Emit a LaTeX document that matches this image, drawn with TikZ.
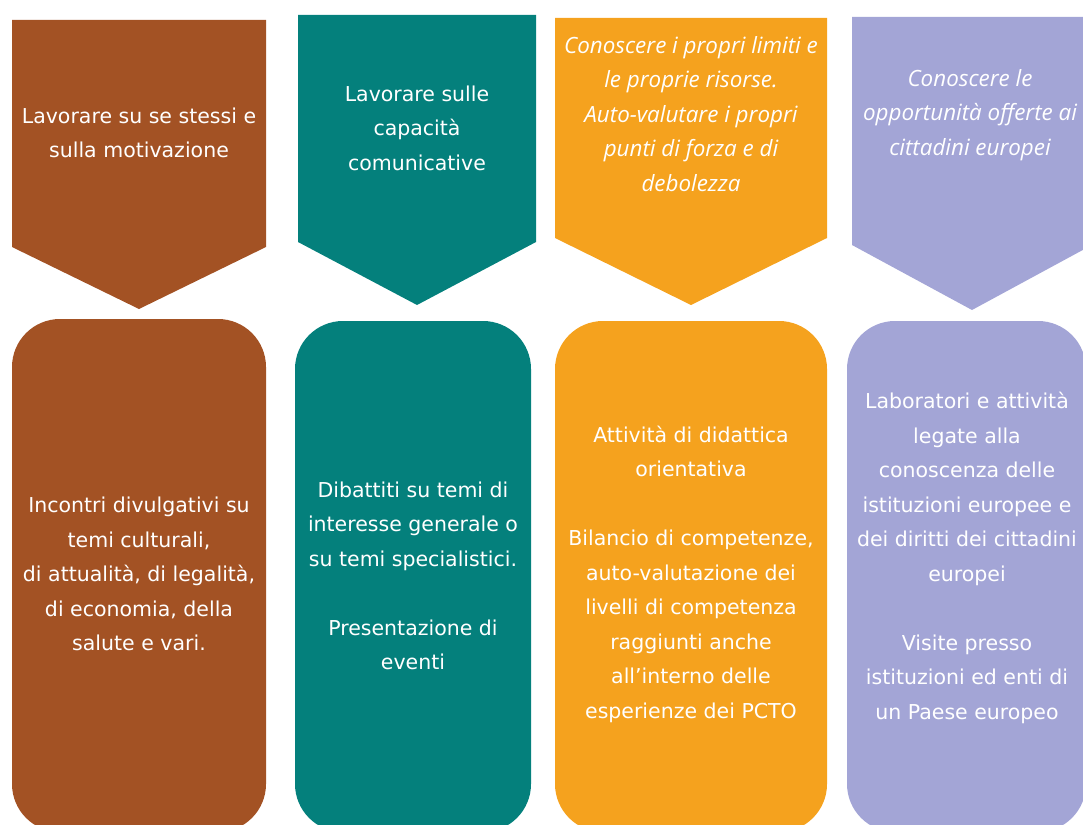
\documentclass[tikz,border=0pt]{standalone}
\usepackage{fontspec}
\setmainfont{DejaVu Sans}
\newfontfamily\itfont{Open Sans}
\definecolor{cbrown}{HTML}{A35224}
\definecolor{cteal}{HTML}{04807C}
\definecolor{corange}{HTML}{F5A21E}
\definecolor{clav}{HTML}{A3A5D6}
\tikzset{
  boxtxt/.style={text=white, align=center, inner sep=0pt, font=\fontsize{20.5}{34.5}\selectfont},
  ittxt/.style={text=white, align=center, inner sep=0pt, font=\itfont\itshape\fontsize{22.4}{34.5}\selectfont},
  pill/.style={fill=#1, draw=none, rounded corners=48pt},
  chev/.style={fill=#1, draw=none}
}
\begin{document}
\begin{tikzpicture}[x=1pt,y=-1pt]
\useasboundingbox (0,0) rectangle (1083,824);
\clip (0,0) rectangle (1083,824);
% chevrons
\fill[chev=cbrown] (12,20) -- (266,20) -- (266,247) -- (139,309) -- (12,247) -- cycle;
\fill[chev=cteal] (298,15) -- (536,15) -- (536,242) -- (417,305) -- (298,242) -- cycle;
\fill[chev=corange] (555,18) -- (827,18) -- (827,238) -- (691,305) -- (555,238) -- cycle;
\fill[chev=clav] (852,17) -- (1092,17) -- (1092,245) -- (972,310) -- (852,245) -- cycle;
% boxes
\fill[pill=cbrown] (12,319) rectangle (266,832);
\fill[pill=cteal] (295,321) rectangle (531,832);
\fill[pill=corange] (555,321) rectangle (827,832);
\fill[pill=clav] (847,321) rectangle (1086,832);
% chevron texts
\node[boxtxt] (t1) at (139,133) {Lavorare su se stessi e\\sulla motivazione};
\node[boxtxt] (t2) at (417,128) {Lavorare sulle\\capacità\\comunicative};
\node[ittxt] (t3) at (691,114) {Conoscere i propri limiti e\\le proprie risorse.\\Auto-valutare i propri\\punti di forza e di\\debolezza};
\node[ittxt] (t4) at (970,115) {Conoscere le\\opportunità offerte ai\\cittadini europei};
% box texts
\node[boxtxt] (b1) at (139,574) {Incontri divulgativi su\\temi culturali,\\di attualità, di legalità,\\di economia, della\\salute e vari.};
\node[boxtxt] (b2) at (413,576) {Dibattiti su temi di\\interesse generale o\\su temi specialistici.\\[34.5pt]Presentazione di\\eventi};
\node[boxtxt] (b3) at (691,574) {Attività di didattica\\orientativa\\[34.5pt]Bilancio di competenze,\\auto-valutazione dei\\livelli di competenza\\raggiunti anche\\all’interno delle\\esperienze dei PCTO};
\node[boxtxt] (b4) at (967,558) {Laboratori e attività\\legate alla\\conoscenza delle\\istituzioni europee e\\dei diritti dei cittadini\\europei\\[34.5pt]Visite presso\\istituzioni ed enti di\\un Paese europeo};
\end{tikzpicture}
\end{document}
